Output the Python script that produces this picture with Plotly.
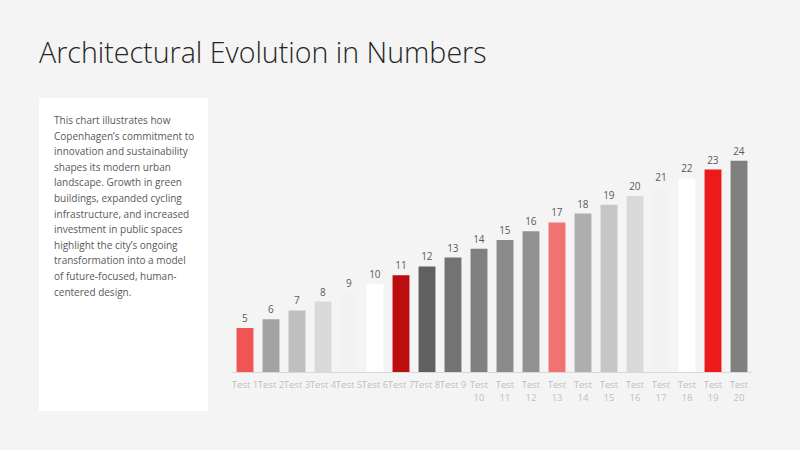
import plotly.graph_objects as go

W, H = 800, 450

# chart data
categories = [f"Test {i}" for i in range(1, 21)]
values = [5, 6, 7, 8, 9, 10, 11, 12, 13, 14, 15, 16, 17, 18, 19, 20, 21, 22, 23, 24]
bar_colors = [
    "#F05454", "#A3A3A3", "#BFBFBF", "#D9D9D9", "#F2F2F2",
    "#FFFFFF", "#BC0E0E", "#606060", "#737373", "#808080",
    "#8A8A8A", "#929292", "#F27272", "#AEAEAE", "#C6C6C6",
    "#D9D9D9", "#F2F2F2", "#FFFFFF", "#EC1A1A", "#808080",
]
tick_labels = [c if len(c) <= 6 else c.replace(" ", "<br>") for c in categories]

title = "Architectural Evolution in Numbers"
description_lines = [
    "This chart illustrates how",
    "Copenhagen\u2019s commitment to",
    "innovation and sustainability",
    "shapes its modern urban",
    "landscape. Growth in green",
    "buildings, expanded cycling",
    "infrastructure, and increased",
    "investment in public spaces",
    "highlight the city\u2019s ongoing",
    "transformation into a model",
    "of future-focused, human-",
    "centered design.",
]

FONT = "Open Sans"


def px_x(x):
    return x / W


def px_y(y):
    return 1 - y / H


fig = go.Figure()

fig.add_trace(
    go.Bar(
        x=categories,
        y=values,
        marker=dict(color=bar_colors, line=dict(width=0)),
        text=[str(v) for v in values],
        textposition="outside",
        textfont=dict(family=FONT, size=10, color="#595959"),
        cliponaxis=False,
        hoverinfo="none",
    )
)

# white panel behind the description text
fig.add_shape(
    type="rect",
    xref="paper", yref="paper",
    x0=px_x(39), x1=px_x(208), y0=px_y(411), y1=px_y(98),
    fillcolor="#FFFFFF", line=dict(width=0), layer="below",
)

fig.add_annotation(
    text=title,
    xref="paper", yref="paper",
    x=px_x(37), y=px_y(52),
    xanchor="left", yanchor="middle",
    showarrow=False,
    font=dict(family=FONT, size=28.6, color="#262626", weight=300),
)

# one annotation per line keeps the line spacing close to the original
for i, line in enumerate(description_lines):
    fig.add_annotation(
        text=line,
        xref="paper", yref="paper",
        x=px_x(52), y=px_y(120 + i * 15.6),
        xanchor="left", yanchor="middle",
        showarrow=False,
        font=dict(family=FONT, size=10, color="#595959"),
    )

fig.update_layout(
    width=W,
    height=H,
    margin=dict(l=0, r=0, t=0, b=0),
    paper_bgcolor="#F4F4F4",
    plot_bgcolor="rgba(0,0,0,0)",
    showlegend=False,
    bargap=0.35,
    xaxis=dict(
        domain=[px_x(232), px_x(752)],
        tickmode="array",
        tickvals=categories,
        ticktext=tick_labels,
        tickangle=0,
        tickfont=dict(family=FONT, size=9.5, color="#BFBFBF"),
        ticklabelstandoff=4,
        showline=True,
        linecolor="#D9D9D9",
        linewidth=1,
        showgrid=False,
        zeroline=False,
        ticks="",
    ),
    yaxis=dict(
        domain=[px_y(372), px_y(100)],
        range=[0, (372 - 100) / 8.8],
        visible=False,
        showgrid=False,
        zeroline=False,
    ),
)

# drop the default page margin so the figure sits at the window's corner
fig.write_html(
    "out.html",
    config={"displayModeBar": False},
    post_script="document.body.style.margin='0';document.body.style.background='#F4F4F4';",
)
